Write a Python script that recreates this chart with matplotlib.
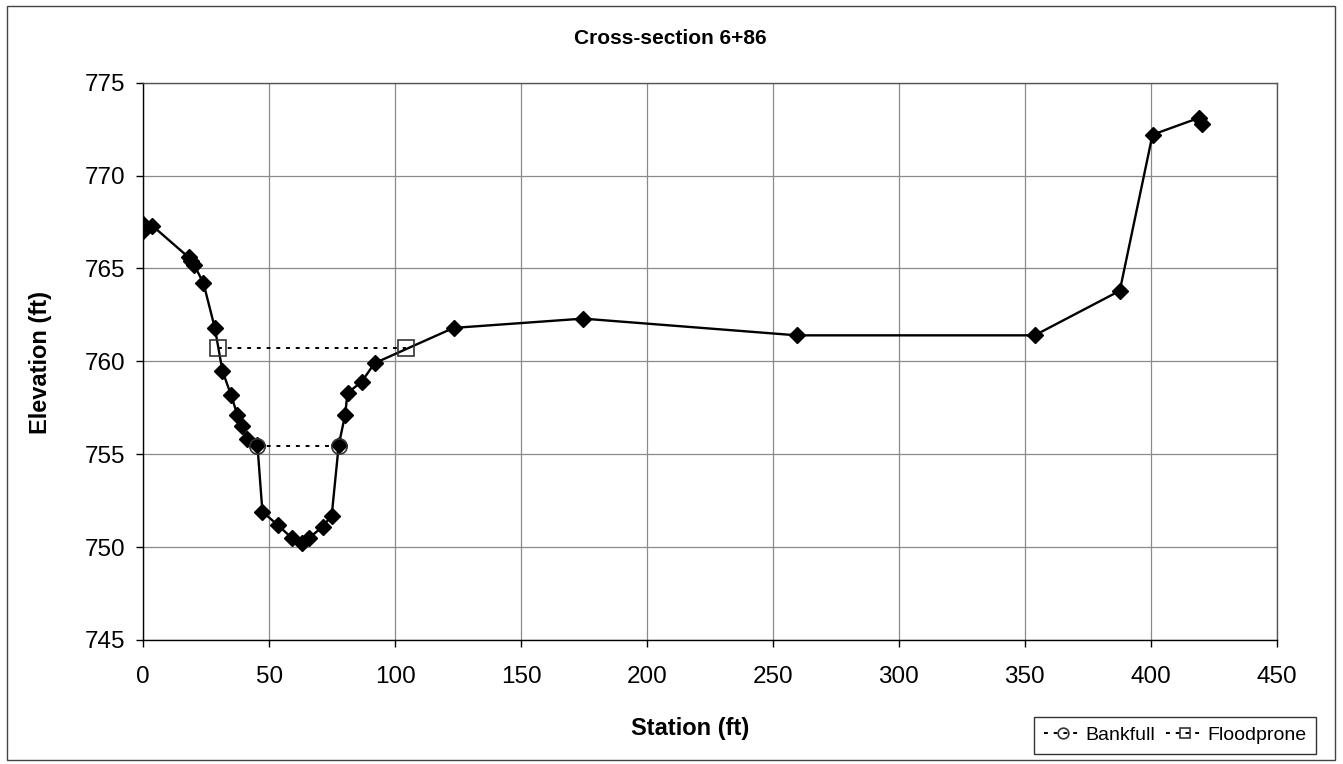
import matplotlib
matplotlib.use("Agg")
import matplotlib.pyplot as plt
from matplotlib.patches import Rectangle

plt.rcParams['font.family'] = ['Liberation Sans', 'DejaVu Sans']

# ground survey points
station = [0, 0, 3.6, 18.0, 19.0, 20.2, 23.9, 28.4, 31.4, 34.8, 37.4, 39.1, 41.1,
           45.3, 47.3, 53.3, 58.9, 62.9, 65.9, 71.2, 74.8, 77.6, 80.1, 81.1, 86.7,
           91.8, 123.2, 174.6, 259.5, 353.9, 387.7, 400.7, 419.0, 420.2]
elevation = [767.0, 767.4, 767.3, 765.6, 765.4, 765.2, 764.2, 761.8, 759.5, 758.2,
             757.1, 756.5, 755.8, 755.5, 751.9, 751.2, 750.5, 750.2, 750.5, 751.1,
             751.7, 755.5, 757.1, 758.3, 758.9, 759.9, 761.8, 762.3, 761.4, 761.4,
             763.8, 772.2, 773.1, 772.8]

bankfull_x = [45.3, 77.6]
bankfull_y = [755.45, 755.45]
floodprone_x = [29.7, 104.4]
floodprone_y = [760.7, 760.7]

W, H = 1343, 764
fig = plt.figure(figsize=(W / 100, H / 100), dpi=100)
ax = fig.add_axes([143.3 / W, 1 - 640 / H, (1276.7 - 143.3) / W, (640 - 82.7) / H])

ax.plot(station, elevation, color='black', lw=1.7, marker='D', ms=8,
        mfc='black', mec='black', zorder=3)
ax.plot(bankfull_x, bankfull_y, color='black', lw=1.4, ls=(0, (2, 3)),
        marker='o', ms=11, mfc='none', mec='#333333', mew=1.2, zorder=4,
        label='Bankfull')
ax.plot(floodprone_x, floodprone_y, color='black', lw=1.4, ls=(0, (2, 3)),
        marker='s', ms=11, mfc='none', mec='#333333', mew=1.2, zorder=4,
        label='Floodprone')

ax.set_xlim(0, 450)
ax.set_ylim(745, 775)
ax.set_xticks(range(0, 451, 50))
ax.set_yticks(range(745, 776, 5))
ax.grid(True, color='#8a8a8a', lw=0.9)
ax.set_axisbelow(True)
for s in ax.spines.values():
    s.set_color('#555555')
    s.set_linewidth(1.0)
ax.spines['left'].set_color('black')
ax.spines['bottom'].set_color('black')
ax.tick_params(axis='both', direction='out', length=5, width=1, labelsize=17.5)
ax.tick_params(axis='y', pad=8)
ax.tick_params(axis='x', pad=14)

fig.text(670 / W, 1 - 38 / H, 'Cross-section 6+86', ha='center', va='center',
         fontsize=15, fontweight='bold')
fig.text(690 / W, 1 - 728 / H, 'Station (ft)', ha='center', va='center',
         fontsize=17, fontweight='bold')
fig.text(40 / W, 1 - 362 / H, 'Elevation (ft)', ha='center', va='center',
         rotation=90, fontsize=17, fontweight='bold')

leg = fig.legend(loc='lower right', bbox_to_anchor=(1316 / W, 1 - 754 / H),
                 ncol=2, fontsize=14, frameon=True, fancybox=False,
                 edgecolor='black', handlelength=1.9, handletextpad=0.2,
                 columnspacing=0.6, borderpad=0.5, borderaxespad=0,
                 markerscale=0.7)
leg.get_frame().set_linewidth(1.0)

# outer chart border
fig.patches.append(Rectangle((7 / W, 4 / H), (1335 - 7) / W, (759 - 5) / H,
                             transform=fig.transFigure, fill=False,
                             edgecolor='#444444', lw=1.0))

fig.savefig('out.png', dpi=100)
